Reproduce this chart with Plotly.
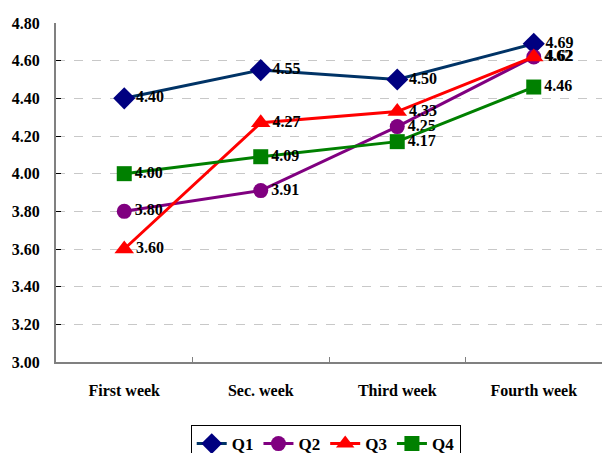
import plotly.graph_objects as go

categories = ["First week", "Sec. week", "Third week", "Fourth week"]
q1 = [4.40, 4.55, 4.50, 4.69]
q2 = [3.80, 3.91, 4.25, 4.62]
q3 = [3.60, 4.27, 4.33, 4.62]
q4 = [4.00, 4.09, 4.17, 4.46]
series_names = ["Q1", "Q2", "Q3", "Q4"]
y_ticks = [3.0, 3.2, 3.4, 3.6, 3.8, 4.0, 4.2, 4.4, 4.6, 4.8]

font_family = "Times New Roman, Liberation Serif, serif"

styles = [
    dict(line="#003366", marker="#000080", symbol="diamond", size=17),
    dict(line="#800080", marker="#800080", symbol="circle", size=15),
    dict(line="#FF0000", marker="#FF0000", symbol="triangle-up", size=17),
    dict(line="#008000", marker="#008000", symbol="square", size=15),
]

fig = go.Figure()
for name, vals, st in zip(series_names, [q1, q2, q3, q4], styles):
    fig.add_trace(go.Scatter(
        x=categories, y=vals, name=name,
        mode="lines+markers+text",
        text=[f"{v:.2f}" for v in vals],
        textposition="middle right",
        textfont=dict(family=font_family, size=16, color="black", weight="bold"),
        line=dict(color=st["line"], width=3),
        marker=dict(color=st["marker"], symbol=st["symbol"], size=st["size"]),
        cliponaxis=False,
    ))

fig.update_layout(
    width=602, height=453,
    margin=dict(l=56, r=0, t=23, b=91, autoexpand=False),
    paper_bgcolor="white", plot_bgcolor="white",
    font=dict(family=font_family, size=16, color="black"),
    showlegend=True,
    legend=dict(
        orientation="h", x=0.494, xanchor="center", y=-0.186, yanchor="top",
        bordercolor="black", borderwidth=1,
        font=dict(family=font_family, size=17, color="black", weight="bold"),
        itemwidth=30, tracegroupgap=0,
    ),
    xaxis=dict(
        type="category", range=[-0.5, 3.5],
        showline=True, linecolor="#808080", linewidth=2,
        ticks="inside", tickson="boundaries", ticklen=5, tickcolor="#808080",
        showgrid=False, zeroline=False,
        tickfont=dict(family=font_family, size=16, color="black", weight="bold"),
        ticklabelstandoff=13,
    ),
    yaxis=dict(
        range=[3.0, 4.8], tickvals=y_ticks,
        ticktext=[f"{v:.2f}" for v in y_ticks],
        showline=True, linecolor="#808080", linewidth=2,
        ticks="inside", ticklen=5, tickcolor="black",
        showgrid=True, gridcolor="#C8C8C8", griddash="dash", gridwidth=1,
        zeroline=False,
        tickfont=dict(family=font_family, size=16, color="black", weight="bold"),
        ticklabelstandoff=11,
    ),
)

fig.write_html("out.html")
